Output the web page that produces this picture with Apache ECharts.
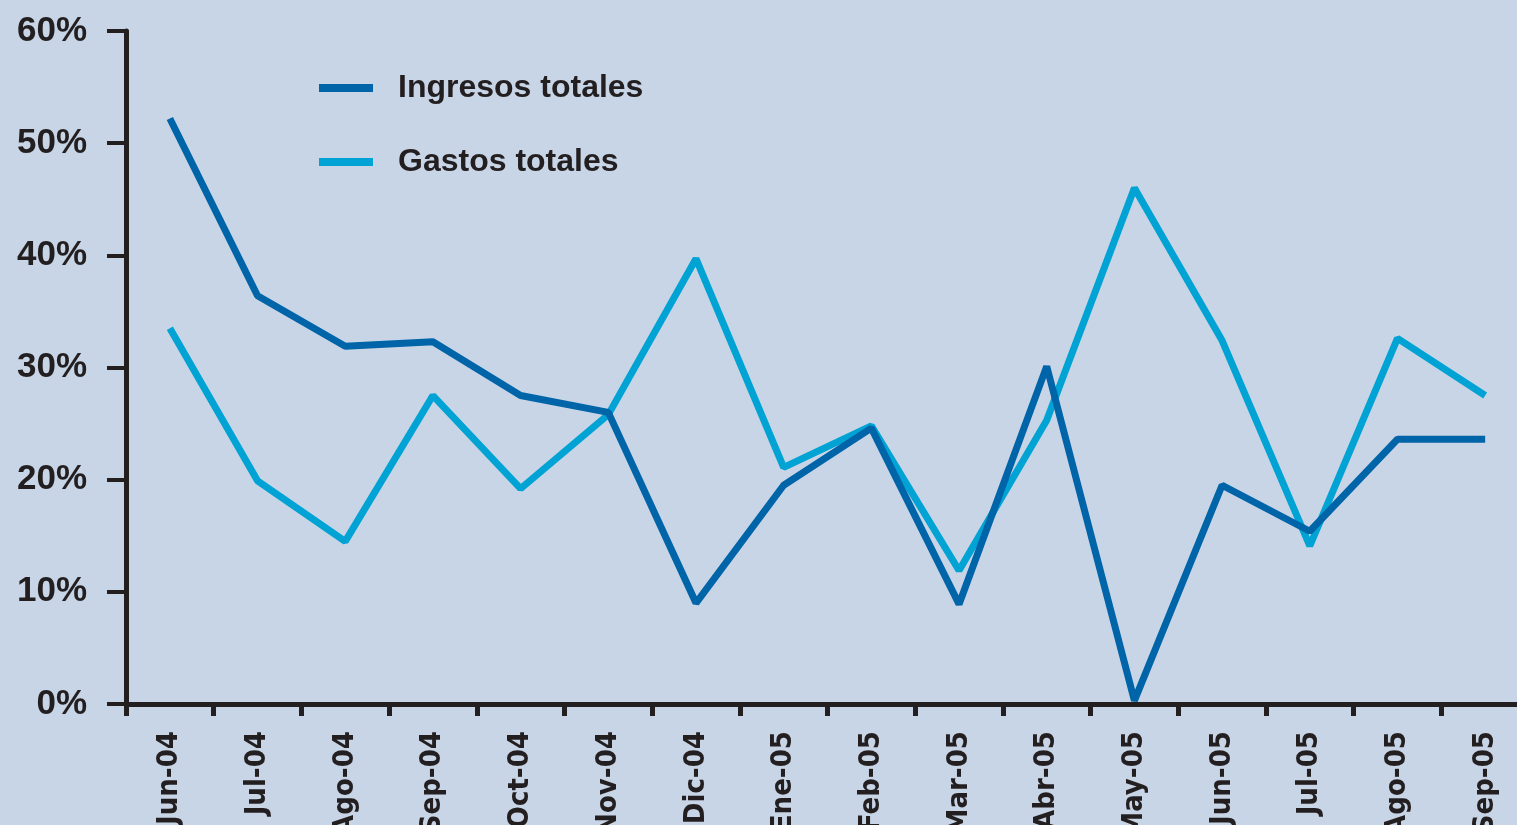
<!DOCTYPE html>
<html>
<head>
<meta charset="utf-8">
<script src="https://cdn.jsdelivr.net/npm/echarts@6/dist/echarts.min.js"></script>
<style>
    html, body { margin: 0; padding: 0; background: #c8d5e6; }
    #chart { width: 1517px; height: 825px; }
</style>
</head>
<body>
<div id="chart"></div>
<script>
// meses (eje x)
const meses = ['Jun-04', 'Jul-04', 'Ago-04', 'Sep-04', 'Oct-04', 'Nov-04', 'Dic-04', 'Ene-05',
    'Feb-05', 'Mar-05', 'Abr-05', 'May-05', 'Jun-05', 'Jul-05', 'Ago-05', 'Sep-05'];

// variación en %
const ingresosTotales = [52.2, 36.4, 31.9, 32.3, 27.5, 26.0, 9.0, 19.5, 24.6, 8.9, 30.1, 0.3, 19.5, 15.4, 23.6, 23.6];
const gastosTotales = [33.5, 19.9, 14.5, 27.5, 19.2, 25.8, 39.7, 21.1, 24.8, 11.9, 25.3, 46.0, 32.4, 14.1, 32.6, 27.5];

// ticks del eje y
const yMin = 0, yMax = 60, yPaso = 10;

const textColor = '#231f20';
const fontBase = '"Liberation Sans", Arial, sans-serif';

var chart = echarts.init(document.getElementById('chart'));

const option = {
    backgroundColor: '#c8d5e6',
    animation: false,
    grid: {
        left: 126,
        right: -12,
        top: 31,
        bottom: 121,
        outerBoundsMode: 'none',
        containLabel: false
    },
    legend: {
        orient: 'vertical',
        left: 314,
        top: 67,
        icon: 'rect',
        itemWidth: 54,
        itemHeight: 8,
        itemGap: 42,
        textStyle: {
            color: textColor,
            fontSize: 32,
            fontWeight: 'bold',
            fontFamily: fontBase,
            lineHeight: 32,
            padding: [0, 0, 0, 20]
        },
        data: ['Ingresos totales', 'Gastos totales']
    },
    xAxis: {
        type: 'category',
        data: meses,
        boundaryGap: true,
        axisLine: { lineStyle: { color: textColor, width: 5 } },
        axisTick: { show: true, length: 12, lineStyle: { color: textColor, width: 5 } },
        axisLabel: {
            rotate: 90,
            margin: 27,
            interval: 0,
            color: textColor,
            fontSize: 29,
            fontWeight: 'bold',
            fontFamily: '"Liberation Sans Narrow", "DejaVu Sans Condensed", ' + fontBase
        }
    },
    yAxis: {
        type: 'value',
        min: yMin,
        max: yMax,
        interval: yPaso,
        splitLine: { show: false },
        axisLine: { show: true, lineStyle: { color: textColor, width: 5 } },
        axisTick: { show: true, length: 19, lineStyle: { color: textColor, width: 4 } },
        axisLabel: {
            formatter: '{value}%',
            margin: 39,
            color: textColor,
            fontSize: 35,
            fontWeight: 'bold',
            fontFamily: fontBase
        }
    },
    series: [
        {
            name: 'Ingresos totales',
            type: 'line',
            data: ingresosTotales,
            showSymbol: false,
            symbol: 'none',
            color: '#0064a8',
            lineStyle: { width: 7, color: '#0064a8' },
            z: 3
        },
        {
            name: 'Gastos totales',
            type: 'line',
            data: gastosTotales,
            showSymbol: false,
            symbol: 'none',
            color: '#00a3d4',
            lineStyle: { width: 7, color: '#00a3d4' },
            z: 2
        }
    ]
};

chart.setOption(option);
</script>
</body>
</html>
